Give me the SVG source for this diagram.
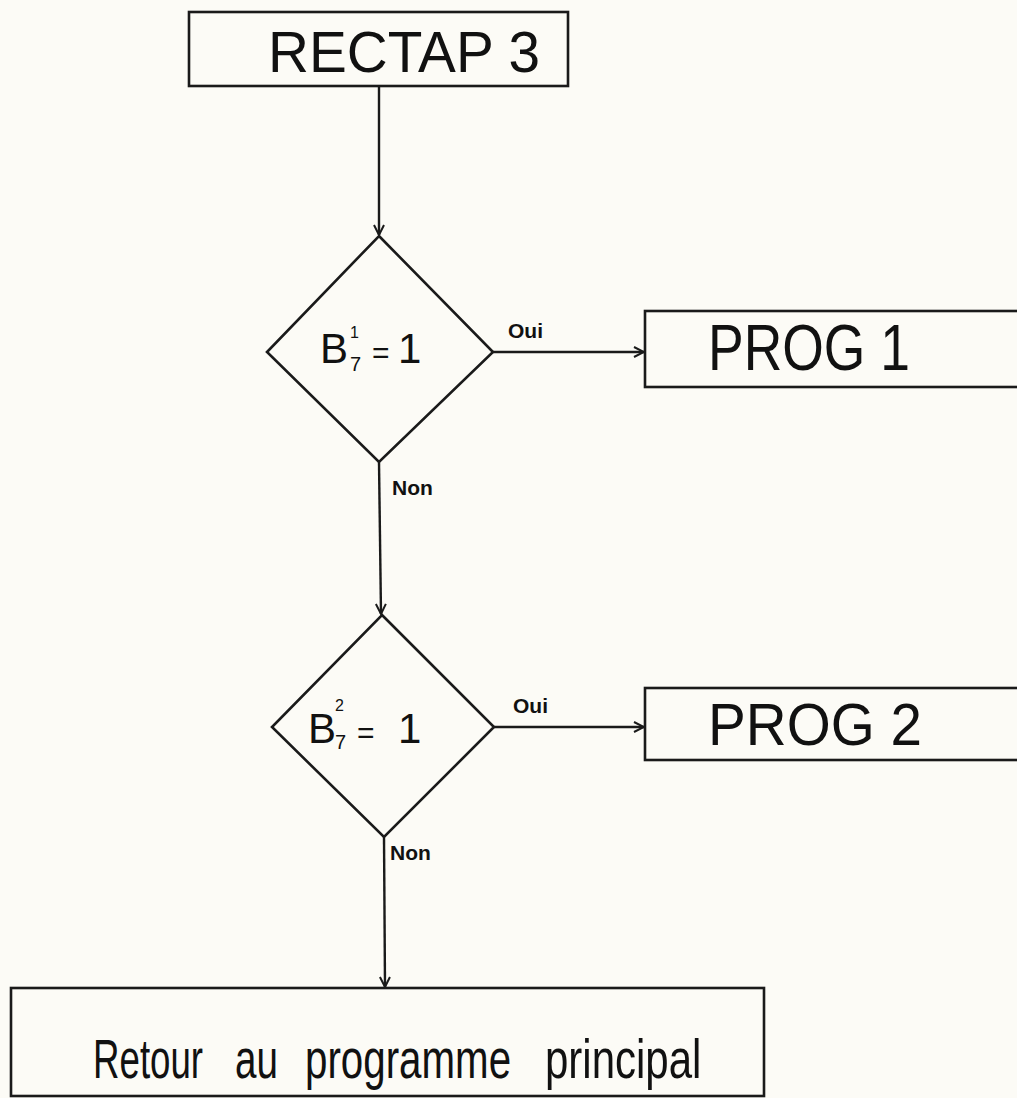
<svg xmlns="http://www.w3.org/2000/svg" width="1017" height="1098" viewBox="0 0 1017 1098">
<style>
.box{fill:none;stroke:#1a1a1a;stroke-width:2.6}
.con{fill:none;stroke:#1a1a1a;stroke-width:2.4}
.big{font-family:"Liberation Sans",Arial,sans-serif;fill:#111;font-weight:normal}
.hand{font-family:"Liberation Sans",Arial,sans-serif;fill:#111}
.lab{font-family:"Liberation Sans",Arial,sans-serif;fill:#111;font-size:21px;font-weight:bold}
</style>
<defs>
<marker id="arr" viewBox="0 0 12 12" refX="11" refY="6" markerWidth="12" markerHeight="12" markerUnits="userSpaceOnUse" orient="auto">
<path d="M1,1 L11,6 L1,11" fill="none" stroke="#1a1a1a" stroke-width="2"/>
</marker>
</defs>
<rect x="0" y="0" width="1017" height="1098" fill="#fcfbf6"/>
<g id="connectors">
<line class="con" x1="379" y1="85" x2="379" y2="235" marker-end="url(#arr)"/>
<line class="con" x1="493" y1="352" x2="644" y2="352" marker-end="url(#arr)"/>
<line class="con" x1="379" y1="462" x2="381" y2="614" marker-end="url(#arr)"/>
<line class="con" x1="494" y1="727" x2="644" y2="727" marker-end="url(#arr)"/>
<line class="con" x1="384" y1="837" x2="385" y2="987" marker-end="url(#arr)"/>
<text class="lab" x="508" y="338">Oui</text>
<text class="lab" x="392" y="495">Non</text>
<text class="lab" x="513" y="713">Oui</text>
<text class="lab" x="390" y="860">Non</text>
</g>
<g id="rectap3">
<rect class="box" x="189" y="12" width="379" height="74"/>
<text class="big" x="268" y="72" font-size="58" textLength="272" lengthAdjust="spacingAndGlyphs">RECTAP 3</text>
</g>
<g id="test1">
<polygon class="box" points="379,236 493,352 379,462 267,352"/>
<text class="hand" x="320" y="363" font-size="42">B</text>
<text class="hand" x="350" y="338" font-size="16">1</text>
<text class="hand" x="350" y="371" font-size="20">7</text>
<text class="hand" x="372" y="363" font-size="30">=</text>
<text class="hand" x="398" y="363" font-size="42">1</text>
</g>
<g id="prog1">
<rect class="box" x="645" y="311" width="390" height="76"/>
<text class="big" x="708" y="370" font-size="64" textLength="202" lengthAdjust="spacingAndGlyphs">PROG 1</text>
</g>
<g id="test2">
<polygon class="box" points="382,615 494,727 384,837 272,727"/>
<text class="hand" x="308" y="743" font-size="42">B</text>
<text class="hand" x="335" y="711" font-size="16">2</text>
<text class="hand" x="335" y="749" font-size="20">7</text>
<text class="hand" x="357" y="743" font-size="30">=</text>
<text class="hand" x="398" y="743" font-size="42">1</text>
</g>
<g id="prog2">
<rect class="box" x="645" y="688" width="390" height="72"/>
<text class="big" x="708" y="745" font-size="60" textLength="214" lengthAdjust="spacingAndGlyphs">PROG  2</text>
</g>
<g id="retour">
<rect class="box" x="11" y="988" width="753" height="108"/>
<text class="hand" font-size="56" transform="translate(93,1078) scale(0.655,1)">Retour</text>
<text class="hand" font-size="56" transform="translate(235,1078) scale(0.69,1)">au</text>
<text class="hand" font-size="56" transform="translate(305,1078) scale(0.72,1)">programme</text>
<text class="hand" font-size="56" transform="translate(545,1078) scale(0.75,1)">principal</text>
</g>
</svg>
